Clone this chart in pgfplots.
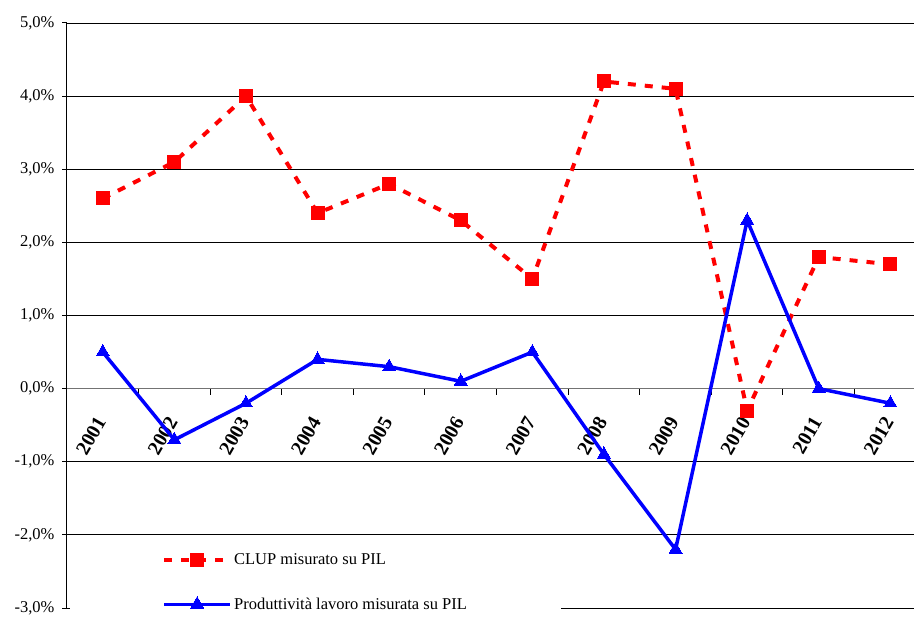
\documentclass[border=0pt]{standalone}
\usepackage{fontspec}
\setmainfont{Liberation Serif}
\usepackage{pgfplots}
\pgfplotsset{compat=1.18}

\begin{document}
\begin{tikzpicture}
\useasboundingbox (-67pt,-11pt) rectangle (847pt,608pt);
\begin{axis}[
    scale only axis,
    width=847pt, height=585pt,
    at={(0,0)}, anchor=south west,
    xmin=-0.5, xmax=11.33,
    ymin=-3, ymax=5,
    axis x line=middle,
    axis y line=left,
    axis line style={-},
    x axis line style={draw=black!55, line width=1pt},
    y axis line style={line width=1pt},
    xtick={0,...,11},
    xticklabels={2001,2002,2003,2004,2005,2006,2007,2008,2009,2010,2011,2012},
    major x tick style={draw=none},
    minor xtick={0.5,1.5,...,10.5},
    minor x tick style={draw=black, line width=1pt},
    minor tick length=6pt,
    xtick align=outside,
    xticklabel style={font=\fontsize{20}{22}\selectfont\bfseries, xshift=0pt, yshift=-22pt, rotate=60, anchor=east},
    ytick={-3,...,5},
    ymajorgrids,
    grid style={black, line width=0.8pt},
    major y tick style={draw=black, line width=1pt},
    major tick length=5pt,
    ytick align=outside,
    yticklabel={\pgfmathprintnumber[fixed,fixed zerofill,precision=1,use comma]{\tick}\%},
    yticklabel style={font=\fontsize{16.5}{19}\selectfont, xshift=-4pt},
    /pgf/number format/assume math mode=true,
    clip=false,
    legend cell align=left,
    legend style={draw=none, fill=white, inner xsep=92pt, inner ysep=4pt,
        at={(axis description cs:0.0035,0.104)}, anchor=north west,
        font=\fontsize{16.5}{19}\selectfont, row sep=28pt},
    legend image code/.code={
        \draw[mark repeat=2, mark phase=2] plot coordinates {(0pt,0pt) (33pt,0pt) (66pt,0pt)};
    },
]
\addplot[red, line width=4pt, dash pattern=on 8pt off 9pt,
    mark=square*, mark size=6.5pt, mark options={solid, line width=0pt}]
coordinates {
    (0,2.6) (1,3.1) (2,4.0) (3,2.4) (4,2.8) (5,2.3)
    (6,1.5) (7,4.2) (8,4.1) (9,-0.3) (10,1.8) (11,1.7)
};
\addlegendentry{CLUP misurato su PIL}
\addplot[blue, line width=3.5pt,
    mark=triangle*, mark size=7.5pt, mark options={solid, line width=0pt}]
coordinates {
    (0,0.5) (1,-0.7) (2,-0.2) (3,0.4) (4,0.3) (5,0.1)
    (6,0.5) (7,-0.9) (8,-2.2) (9,2.3) (10,0.0) (11,-0.2)
};
\addlegendentry{Produttività lavoro misurata su PIL}
\end{axis}
\end{tikzpicture}
\end{document}
